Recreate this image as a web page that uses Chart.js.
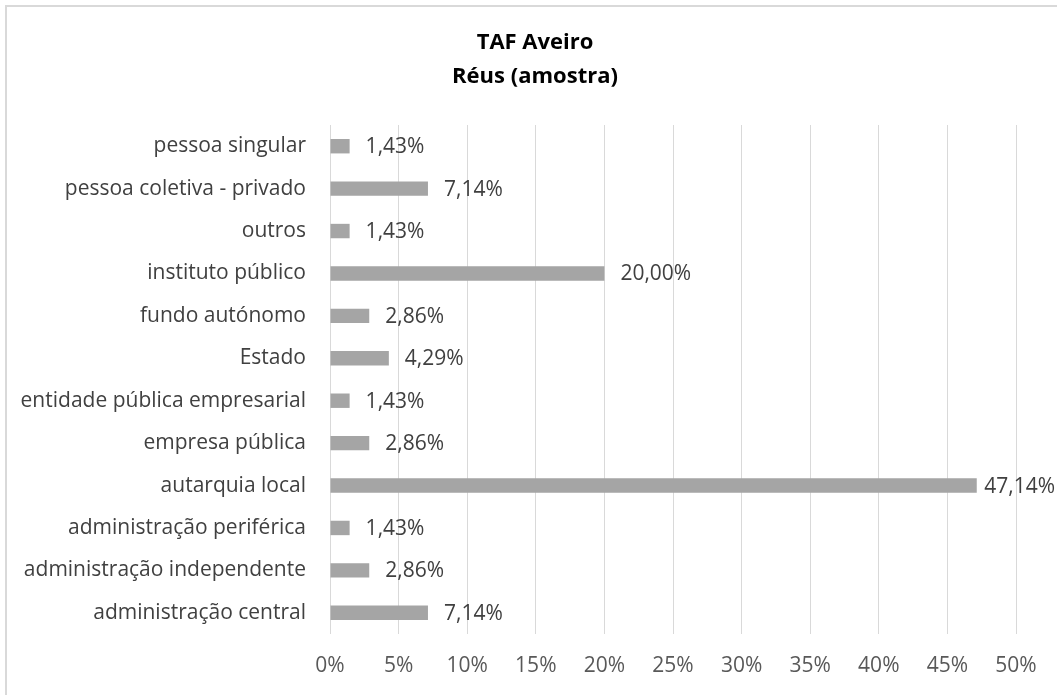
<!DOCTYPE html>
<html>
<head>
<meta charset="utf-8">
<script src="https://cdn.jsdelivr.net/npm/chart.js@4"></script>
<style>
  html, body { margin: 0; padding: 0; background: #fff; }
  #wrap { position: relative; width: 1057px; height: 695px; overflow: hidden; }
  #frame { position: absolute; left: 5px; top: 5px; width: 1100px; height: 800px; border: 2px solid #d9d9d9; box-sizing: border-box; pointer-events: none; }
</style>
</head>
<body>
<div id="wrap">
  <canvas id="chart" width="1057" height="695"></canvas>
  <div id="frame"></div>
</div>
<script>
const categories = [
    "pessoa singular",
    "pessoa coletiva - privado",
    "outros",
    "instituto público",
    "fundo autónomo",
    "Estado",
    "entidade pública empresarial",
    "empresa pública",
    "autarquia local",
    "administração periférica",
    "administração independente",
    "administração central"
];
const values = [1.43, 7.14, 1.43, 20.00, 2.86, 4.29, 1.43, 2.86, 47.14, 1.43, 2.86, 7.14];
const xTicks = [0, 5, 10, 15, 20, 25, 30, 35, 40, 45, 50];
const titleLines = ["TAF Aveiro", "Réus (amostra)"];

const fontFamily = "'Open Sans', sans-serif";

// labels after each bar, like the excel data labels (kept inside the canvas)
const barLabels = {
    id: "barLabels",
    afterDatasetsDraw(chart) {
        const c = chart.ctx;
        const meta = chart.getDatasetMeta(0);
        c.save();
        c.font = "21px " + fontFamily;
        c.fillStyle = "#404040";
        c.textBaseline = "middle";
        meta.data.forEach((bar, i) => {
            const txt = values[i].toFixed(2).replace(".", ",") + "%";
            const w = c.measureText(txt).width;
            const x = Math.min(bar.x + 16, chart.width - 2 - w);
            c.fillText(txt, x, bar.y + 1);
        });
        c.restore();
    }
};

// title centred on the whole chart box (excel style), not the padded area
const chartTitle = {
    id: "chartTitle",
    afterDraw(chart) {
        const c = chart.ctx;
        c.save();
        c.font = "bold 22px " + fontFamily;
        c.fillStyle = "#000";
        c.textAlign = "center";
        c.textBaseline = "middle";
        titleLines.forEach((t, i) => c.fillText(t, 535, 43 + i * 34));
        c.restore();
    }
};

new Chart(document.getElementById("chart"), {
    type: "bar",
    data: {
        labels: categories,
        datasets: [{
            data: values,
            backgroundColor: "#a5a5a5",
            borderWidth: 0,
            barPercentage: 0.425,
            categoryPercentage: 0.8
        }]
    },
    plugins: [barLabels, chartTitle],
    options: {
        indexAxis: "y",
        responsive: false,
        animation: false,
        layout: { padding: { left: 0, right: 41, top: 125, bottom: 0 } },
        plugins: {
            legend: { display: false },
            tooltip: { enabled: false },
            title: { display: false }
        },
        scales: {
            x: {
                min: 0,
                max: 50,
                afterBuildTicks(axis) {
                    axis.ticks = xTicks.map(v => ({ value: v }));
                },
                afterFit(axis) { axis.height = 61; },
                ticks: {
                    color: "#595959",
                    font: { family: fontFamily, size: 21 },
                    padding: 19,
                    maxRotation: 0,
                    callback: v => v + "%"
                },
                grid: { color: "#d9d9d9", drawTicks: false },
                border: { display: false }
            },
            y: {
                afterFit(axis) { axis.width = 330; },
                ticks: {
                    color: "#404040",
                    font: { family: fontFamily, size: 21 },
                    padding: 24
                },
                grid: { display: false, drawTicks: false },
                border: { display: false }
            }
        }
    }
});
</script>
</body>
</html>
